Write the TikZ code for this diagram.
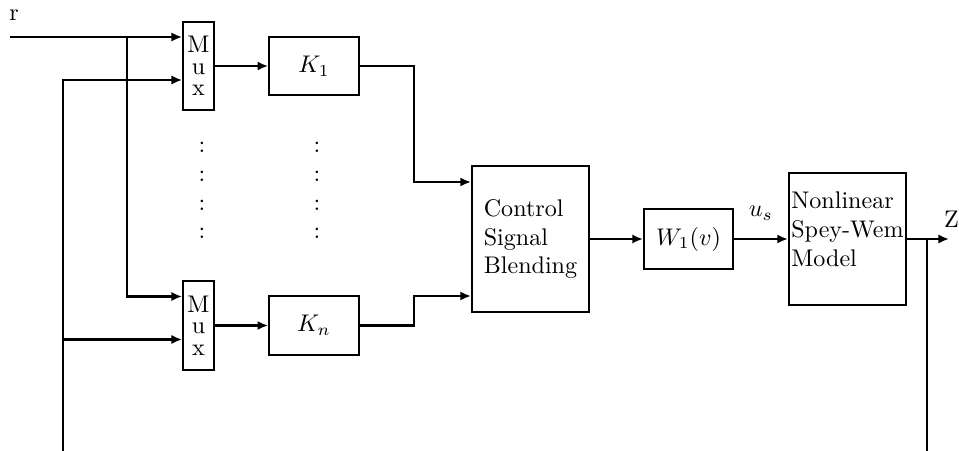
\documentclass[tikz,border=0pt]{standalone}
\usepackage{amsmath, amssymb}
\usepackage{tikz}
\usetikzlibrary{arrows, arrows.meta, positioning, calc}

\begin{document}
\begin{tikzpicture}[x=0.0146cm, y=-0.0146cm, >={Latex[length=4.4pt,width=3.8pt]}, line width=0.85pt,
    block/.style={draw, rectangle, minimum width=1.31cm, minimum height=0.85cm},
    muxbox/.style={draw, rectangle, minimum width=0.45cm, minimum height=1.29cm, inner sep=1pt, align=center}]
        % Fix the size of the picture
        \useasboundingbox (0,0) rectangle (959,451);

        % Draw the two mux blocks and the gains
        \node[muxbox] (mux1) at (198.5,66) {M\\[-3pt]u\\[-3pt]x};
        \node[muxbox] (mux2) at (198.5,325.5) {M\\[-3pt]u\\[-3pt]x};
        \node[block] (k1) at (314,66) {$K_1$};
        \node[block] (kn) at (314,325.5) {$K_n$};

        % Draw the dots between the rows
        \foreach \i/\yy in {1/147, 2/176, 3/205, 4/233} {
            \node (dotl\i) at (202,\yy) {:};
            \node (dotr\i) at (317,\yy) {:};
        }

        % Draw the blending, weight and model blocks
        \node[draw, minimum width=1.71cm, minimum height=2.13cm, align=left] (csb) at (530.5,239) {Control\\Signal\\Blending};
        \node[block, minimum width=1.30cm, minimum height=0.88cm] (w1) at (688.5,239) {$W_1(v)$};
        \node[draw, minimum width=1.71cm, minimum height=1.93cm] (nsw) at (847.5,239) {};
        \node[align=left] (nswtext) at (847.5,229) {Nonlinear\\Spey-Wem\\Model};

        % Input ports
        \coordinate (mux1a) at ($(mux1.west)+(0,-29)$);
        \coordinate (mux1b) at ($(mux1.west)+(0,14)$);
        \coordinate (mux2a) at ($(mux2.west)+(0,-29)$);
        \coordinate (mux2b) at ($(mux2.west)+(0,14)$);
        \coordinate (csba) at ($(csb.west)+(0,-57)$);
        \coordinate (csbb) at ($(csb.west)+(0,57)$);

        % Reference input and feedback ends
        \coordinate (rin) at (10,37);
        \coordinate (rsplit) at (127,37);
        \coordinate (fbin) at (63,451);
        \coordinate (fbout) at (927,451);
        \coordinate (zout) at (949,239);
        \node (rlabel) at (14,15) {r};
        \node[anchor=west, inner sep=0pt] (zlabel) at (943,219) {Z};

        % Draw the connectors
        \draw[->] (rin) -- (mux1a);
        \draw[->] (rsplit) |- (mux2a);
        \draw[->] (fbin) |- (mux1b);
        \draw[->] (fbin |- mux2b) -- (mux2b);
        \draw[->] (mux1) -- (k1);
        \draw[->] (mux2) -- (kn);
        \draw[->] (k1.east) -- ($(k1.east)+(54,0)$) |- (csba);
        \draw[->] (kn.east) -- ($(kn.east)+(54,0)$) |- (csbb);
        \draw[->] (csb) -- (w1);
        \draw[->] (w1) -- node[above, yshift=4pt] (uslabel) {$u_s$} (nsw);
        \draw[->] (nsw) -- (zout);
        \draw (nsw.east -| fbout) -- (fbout);
    \end{tikzpicture}
\end{document}
